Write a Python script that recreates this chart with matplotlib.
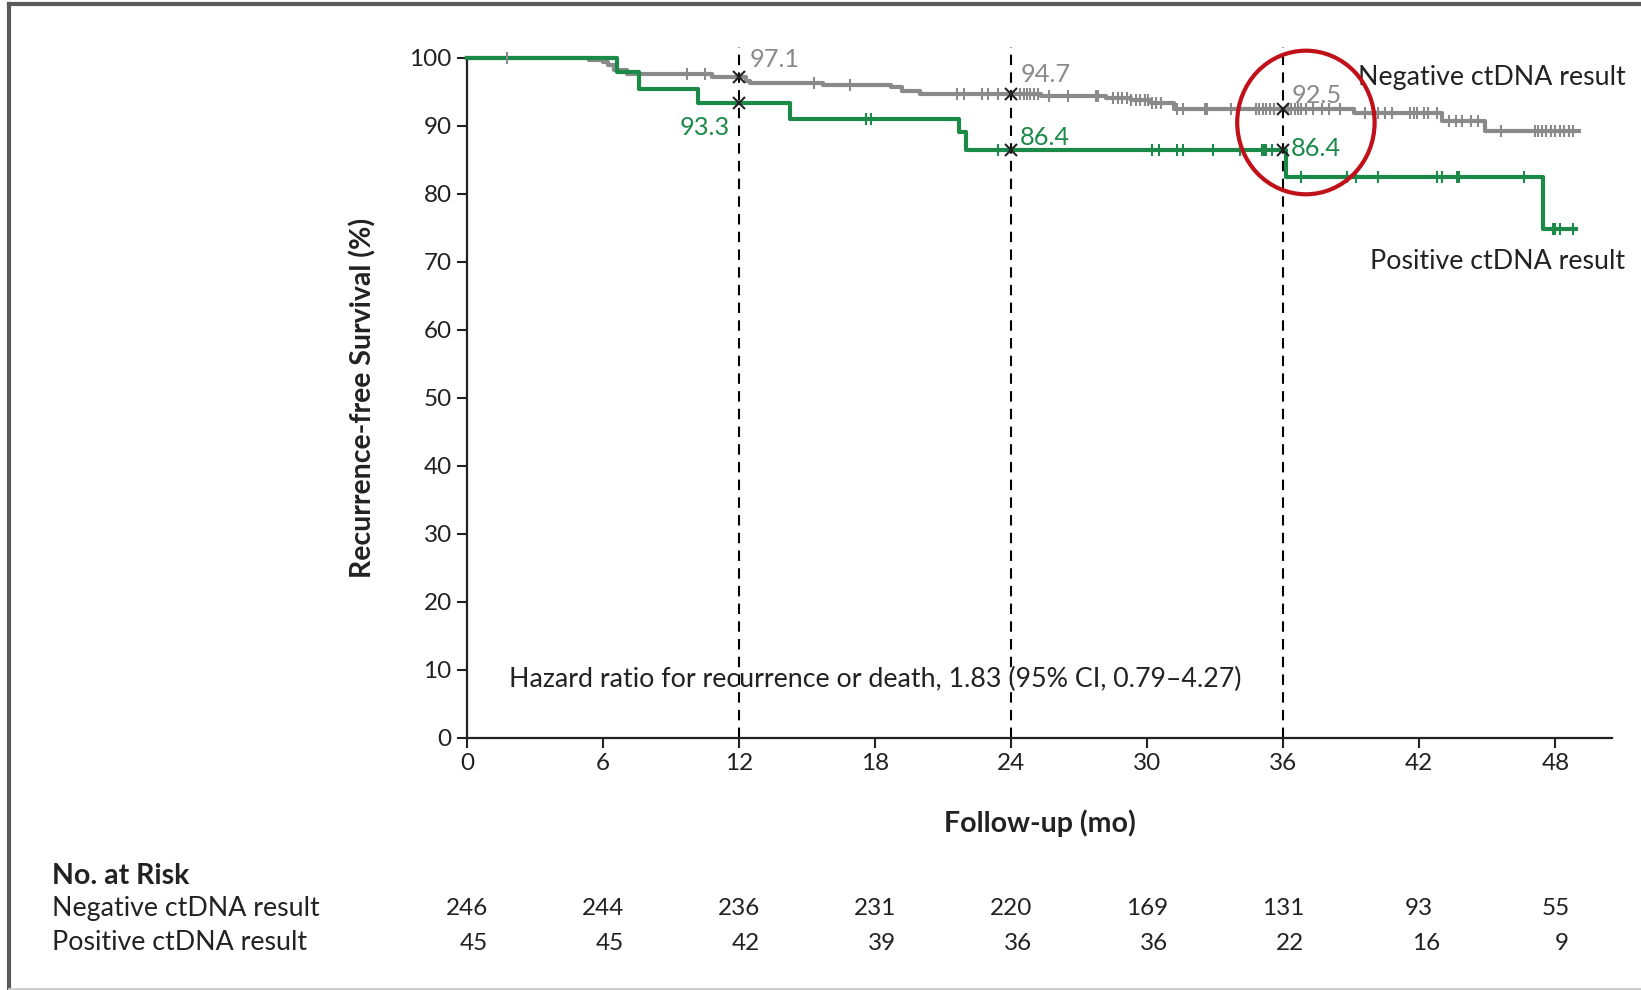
import numpy as np
import matplotlib
matplotlib.use('Agg')
import matplotlib.pyplot as plt
from matplotlib.patches import Ellipse
from matplotlib.lines import Line2D

plt.rcParams['font.family'] = ['Lato', 'DejaVu Sans']

# step curves: time of drop, survival after the drop
neg_t = [0, 5.4, 6.0, 6.2, 6.5, 7.05, 10.8, 12.3, 12.5, 15.7, 18.7, 19.2, 20.0, 25.3, 28.2, 29.3, 30.15, 31.2, 39.1, 43.0, 44.9, 49.05]
neg_s = [100, 99.7, 99.4, 98.9, 98.1, 97.6, 97.1, 96.6, 96.3, 95.9, 95.6, 95.1, 94.7, 94.3, 94.0, 93.7, 93.3, 92.5, 91.8, 90.7, 89.2, 89.2]
pos_t = [0, 6.6, 7.57, 10.2, 14.26, 21.7, 22.0, 36.1, 47.45, 48.9]
pos_s = [100, 97.8, 95.4, 93.3, 91.0, 89.1, 86.4, 82.4, 74.8, 74.8]

# censoring times
neg_cens = [1.75, 9.7, 10.5, 15.3, 16.9, 21.6, 21.9, 22.7, 23.0, 23.4,
            24.4, 24.55, 24.7, 24.85, 25.0, 25.2, 25.65, 26.5, 27.75, 27.85,
            28.5, 28.7, 28.9, 29.1, 29.3, 29.5, 29.7, 29.9, 30.05, 30.2, 30.4, 30.6,
            31.3, 31.6, 32.55, 32.65, 33.7, 34.8, 34.95, 35.1, 35.25, 35.4, 35.6,
            36.2, 36.35, 36.5, 36.65, 36.8, 37.0, 37.3, 37.7, 38.0, 38.5,
            39.6, 40.2, 40.5, 40.8, 41.6, 41.75, 41.9, 42.2, 42.4, 42.8,
            43.3, 43.6, 43.9, 44.3, 44.6, 45.6, 47.1, 47.25, 47.4, 47.6, 47.8,
            48.0, 48.2, 48.4, 48.6, 48.8]
pos_cens = [17.6, 17.8, 23.4, 30.2, 30.5, 31.3, 31.6, 32.9, 34.1, 35.05, 35.15,
            35.25, 35.5, 36.8, 38.8, 39.2, 40.2, 42.8, 43.0, 43.65, 43.75, 46.6,
            47.9, 48.0, 48.2, 48.8]

landmarks = [12, 24, 36]
neg_mark = [97.1, 94.7, 92.5]
pos_mark = [93.3, 86.4, 86.4]

risk_times = [0, 6, 12, 18, 24, 30, 36, 42, 48]
risk_neg = [246, 244, 236, 231, 220, 169, 131, 93, 55]
risk_pos = [45, 45, 42, 39, 36, 36, 22, 16, 9]

GREEN = '#1b8a48'
GRAY = '#8a8a8a'
INK = '#222222'
FS = 17.5     # numbers
FT = 19.3     # plain text
FB = 20.5     # bold labels

fig = plt.figure(figsize=(16.41, 9.9), dpi=100)
ax = fig.add_axes([467/1641, 1-738/990, (1612-467)/1641, (738-57.5)/990])


def surv_at(tt, ss, x):
    i = np.searchsorted(tt, x, side='right') - 1
    return ss[i]


ax.step(neg_t, neg_s, where='post', color=GRAY, lw=3, clip_on=False, zorder=3)
ax.step(pos_t, pos_s, where='post', color=GREEN, lw=3, clip_on=False, zorder=3)
ax.plot(neg_cens, [surv_at(neg_t, neg_s, c) for c in neg_cens], ls='none', marker='|',
        ms=9, mew=1.5, color=GRAY, clip_on=False, zorder=4)
ax.plot(pos_cens, [surv_at(pos_t, pos_s, c) for c in pos_cens], ls='none', marker='|',
        ms=9, mew=1.5, color=GREEN, clip_on=False, zorder=4)

# landmark lines
for i, lm in enumerate(landmarks):
    ax.plot([lm, lm], [0, 101.5], color='black', lw=1.5, ls=(0, (5, 3.5)), clip_on=False, zorder=2)
    ax.plot([lm, lm], [neg_mark[i], pos_mark[i]], ls='none', marker='x', ms=9, mew=1.5,
            color=INK, clip_on=False, zorder=5)

ax.text(12.45, 99.7, '97.1', color=GRAY, fontsize=18.3, va='center', ha='left')
ax.text(11.6, 89.7, '93.3', color=GREEN, fontsize=18.3, va='center', ha='right')
ax.text(24.4, 97.5, '94.7', color=GRAY, fontsize=18.3, va='center', ha='left')
ax.text(24.4, 88.3, '86.4', color=GREEN, fontsize=18.3, va='center', ha='left')
ax.text(36.35, 94.4, '92.5', color=GRAY, fontsize=18.3, va='center', ha='left')
ax.text(36.35, 86.7, '86.4', color=GREEN, fontsize=18.3, va='center', ha='left')

ax.text(51.1, 97.0, 'Negative ctDNA result', color=INK, fontsize=FT, va='center', ha='right')
ax.text(51.1, 70.0, 'Positive ctDNA result', color=INK, fontsize=FT, va='center', ha='right')
ax.text(1.85, 8.6, 'Hazard ratio for recurrence or death, 1.83 (95% CI, 0.79\u20134.27)',
        color=INK, fontsize=FT, va='center', ha='left')

ax.add_patch(Ellipse((37.0, 90.45), 6.06, 21.1, fill=False, ec='#c0101a', lw=3, clip_on=False, zorder=6))

ax.set_xlim(0, 50.5)
ax.set_ylim(0, 100)
ax.set_xticks(risk_times)
ax.set_yticks(range(0, 101, 10))
ax.spines['top'].set_visible(False)
ax.spines['right'].set_visible(False)
for s in ['left', 'bottom']:
    ax.spines[s].set_linewidth(1.6)
    ax.spines[s].set_color(INK)
ax.tick_params(direction='out', length=7, width=1.5, colors=INK, labelsize=FS, pad=4)
ax.set_ylabel('Recurrence-free Survival (%)', fontsize=FB, fontweight='bold', color=INK, labelpad=24)
ax.set_xlabel('Follow-up (mo)', fontsize=FB, fontweight='bold', color=INK, labelpad=25)

# number at risk table
tr = ax.get_xaxis_transform()
fig.text(52/1641, 1-876/990, 'No. at Risk', fontsize=FB, fontweight='bold', color=INK, va='center')
fig.text(52/1641, 1-908.5/990, 'Negative ctDNA result', fontsize=FT, color=INK, va='center')
fig.text(52/1641, 1-943/990, 'Positive ctDNA result', fontsize=FT, color=INK, va='center')
for i, t in enumerate(risk_times):
    ax.text(t, -0.251, str(risk_neg[i]), transform=tr, fontsize=FS, color=INK, ha='center', va='center', clip_on=False)
    ax.text(t + 0.3, -0.302, str(risk_pos[i]), transform=tr, fontsize=FS, color=INK, ha='center', va='center', clip_on=False)

# frame around the figure
fig.add_artist(Line2D([8.5/1641, 8.5/1641], [0, 1-4/990], transform=fig.transFigure, color='#5a5a5a', lw=3))
fig.add_artist(Line2D([8.5/1641, 1], [1-4/990, 1-4/990], transform=fig.transFigure, color='#5a5a5a', lw=3))
fig.add_artist(Line2D([8.5/1641, 1], [1.5/990, 1.5/990], transform=fig.transFigure, color='#cccccc', lw=2))

fig.savefig('out.png', dpi=100)
